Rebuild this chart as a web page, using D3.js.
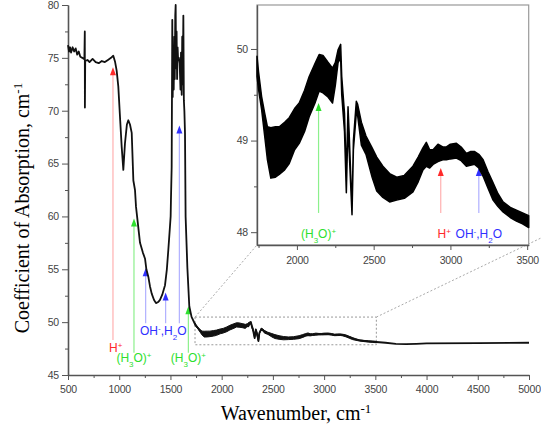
<!DOCTYPE html>
<meta charset="utf-8">
<script src="https://d3js.org/d3.v7.min.js"></script>
<style>
  body { margin: 0; background: #fff; }
  .tick text { font-family: "Liberation Sans", Arial, sans-serif; font-size: 10.5px; fill: #444; letter-spacing: -0.2px; }
  .tick line, .domain { stroke: #555; }
</style>
<div id="chart"></div>
<script>

// ---- data ----
// whole spectrum (wavenumber, absorption); middle part is the centre of the noisy band
var specWn  = [500,510,520,530,545,560,575,590,605,620,640,655,660,664,665,668,690,710,740,770,800,830,860,890,920,942,960,975,991,1010,1024,1040,1056,1075,1089,1105,1122,1138,1154,1164,1180,1203,1230,1252,1265,1284,1300,1317,1340,1359,1380,1398,1420,1447,1465,1479,1495,1502,1505,1512,1518,1522,1527,1532,1538,1542,1547,1551,1555,1560,1565,1570,1575,1582,1590,1598,1603,1610,1615,1620,1626,1631,1636,1642,1648,1665,1684,1706,1740,1780,1820,1900,2000,2080,2160,2225,2260,2285,2300,2322,2333,2344,2359,2368,2387,2430,2520,2600,2690,2780,2845,2890,2930,3040,3100,3160,3215,3280,3345,3430,3510,3600,3700,3800,3900,4000,4500,5000];
var specAbs = [76.2,75.6,76.0,75.5,76.0,75.6,75.9,75.3,75.6,75.1,75.0,74.9,75.0,77.5,70.3,74.7,74.8,74.6,74.9,74.6,74.5,74.7,74.6,74.8,75.0,75.2,74.6,73.8,72.3,69.0,66.6,64.4,66.9,68.7,69.1,68.7,67.9,63.4,62.5,60.9,59.5,57.5,56.6,56.0,55.0,54.3,53.4,52.7,52.1,51.8,51.9,52.1,52.6,53.5,55.0,56.8,59.0,60.0,61.6,64.7,78.6,71.3,76,72,77,73,79,80,74,77.5,73,76,74.8,75,74.5,72,75.5,71.5,77,72.5,79,71,70,67.9,60,55.2,51.5,50.5,49.8,49.3,48.9,48.9,49.2,49.5,49.7,49.65,49.6,50.0,49.5,48.5,49.3,49.0,48.2,48.95,49.35,49.0,48.62,48.48,48.48,48.6,48.85,48.82,48.86,48.89,48.79,48.81,48.7,48.45,48.28,48.18,48.12,48.05,47.95,47.92,47.95,48.0,48.02,48.05];

// inset detail: upper and lower edge of the noisy band
var bandWn = [1740,1750,1770,1790,1808,1830,1860,1885,1920,1950,1985,2015,2050,2080,2120,2145,2170,2200,2232,2250,2268,2285,2292,2310,2322,2333,2340,2359,2368,2387,2395,2420,2450,2490,2520,2560,2604,2650,2700,2756,2790,2821,2843,2865,2887,2919,2950,2974,3000,3039,3070,3104,3130,3158,3185,3213,3245,3278,3310,3343,3390,3430,3470,3510];
var bandHi = [49.92,49.75,49.48,49.30,49.15,49.14,49.15,49.15,49.20,49.25,49.35,49.41,49.55,49.70,49.85,49.94,49.93,49.86,49.79,49.85,49.99,50.05,49.70,49.30,48.60,49.37,49.10,48.25,49.00,49.43,49.40,49.20,49.05,48.92,48.82,48.72,48.64,48.60,48.62,48.72,48.82,48.92,48.98,48.90,48.90,48.96,48.93,48.93,48.96,48.97,48.93,48.86,48.88,48.88,48.85,48.79,48.66,48.54,48.42,48.33,48.27,48.24,48.21,48.18];
var bandLo = [49.70,49.56,49.34,49.05,48.79,48.59,48.60,48.63,48.68,48.75,48.90,48.97,49.10,49.26,49.42,49.54,49.52,49.48,49.41,49.60,49.85,49.90,49.50,49.10,48.43,49.20,48.90,48.19,48.90,49.30,49.28,48.95,48.85,48.60,48.45,48.38,48.33,48.35,48.37,48.44,48.55,48.68,48.72,48.70,48.74,48.77,48.79,48.79,48.80,48.81,48.78,48.72,48.73,48.74,48.70,48.61,48.48,48.35,48.28,48.22,48.16,48.12,48.09,48.05];

// assignment arrows: position, tip value, foot value, colour kind
var mainArrowWn   = [939, 1144, 1258, 1453, 1587, 1675];
var mainArrowTip  = [74.1, 59.8, 55.1, 52.8, 68.6, 51.5];
var mainArrowBase = [48.3, 47.1, 49.9, 49.9, 49.9, 47.1];
var mainArrowKind = ["H", "H3O", "OH", "OH", "OH", "H3O"];
var insetArrowWn   = [2141, 2937, 3185];
var insetArrowTip  = [49.41, 48.70, 48.70];
var insetArrowBase = [48.21, 48.21, 48.21];
var insetArrowKind = ["H3O", "H", "OH"];

// labels (wavenumber, value, kind)
var mainLabelWn  = [965, 1144, 1675, 1430];
var mainLabelAbs = [47.6, 46.6, 46.6, 49.2];
var mainLabelKind = ["H", "H3O", "H3O", "OH"];
var insetLabelWn  = [2141, 2960, 3185];
var insetLabelAbs = [47.98, 47.98, 47.98];
var insetLabelKind = ["H3O", "H", "OH"];

var mainXTicks = [500,1000,1500,2000,2500,3000,3500,4000,4500,5000];
var mainYTicks = [45,50,55,60,65,70,75,80];
var insetXTicks = [2000,2500,3000,3500];
var insetYTicks = [48,49,50];

// ---- colours / label text ----
var head = {H: "#ff2a2a", H3O: "#2ee02e", OH: "#3030ff"};
var shaft = {H: "#ffb0b0", H3O: "#8cf08c", OH: "#b0b0ff"};
var labelParts = {
  H:   [["H", 0], ["+", 1]],
  H3O: [["(H", 0], ["3", -1], ["O)", 0], ["+", 1]],
  OH:  [["OH", 0], ["-", 1], [",H", 0], ["2", -1], ["O", 0]]
};

var W = 541, H = 429;
var svg = d3.select("#chart").append("svg")
    .attr("width", W).attr("height", H);

var fmt = d3.format("d");

// ---- main plot ----
var x = d3.scaleLinear().domain([500, 5000]).range([68, 529]);
var y = d3.scaleLinear().domain([45, 80]).range([375, 5]);

function minorAxis(axisFn, scale, vals, size) {
  return axisFn(scale).tickValues(vals).tickSize(size).tickFormat("").tickSizeOuter(0);
}

svg.append("g")
    .attr("transform", "translate(0,375)")
    .call(minorAxis(d3.axisBottom, x, d3.range(750, 5000, 500), 3));
svg.append("g")
    .attr("transform", "translate(0,375)")
    .call(d3.axisBottom(x).tickValues(mainXTicks).tickFormat(fmt).tickSize(5).tickPadding(6).tickSizeOuter(0))
    .select(".domain").attr("stroke-width", 1.6);
svg.append("g")
    .attr("transform", "translate(68,0)")
    .call(minorAxis(d3.axisLeft, y, d3.range(47.5, 80, 5), 3));
svg.append("g")
    .attr("transform", "translate(68,0)")
    .call(d3.axisLeft(y).tickValues(mainYTicks).tickFormat(fmt).tickSize(6).tickPadding(3).tickSizeOuter(0))
    .select(".domain").attr("stroke-width", 1.6);

// axis titles
svg.append("text")
    .attr("x", 296).attr("y", 420)
    .attr("text-anchor", "middle")
    .style("font-family", "'Liberation Serif', 'Times New Roman', serif")
    .style("font-size", "20px")
    .text("Wavenumber, cm")
  .append("tspan").attr("baseline-shift", "super").style("font-size", "13px").text("-1");

svg.append("text")
    .attr("transform", "translate(29,208) rotate(-90)")
    .attr("text-anchor", "middle")
    .style("font-family", "'Liberation Serif', 'Times New Roman', serif")
    .style("font-size", "20px")
    .text("Coefficient of Absorption, cm")
  .append("tspan").attr("baseline-shift", "super").style("font-size", "13px").text("-1");

// zoom box and connectors
var ix0 = 1740, ix1 = 3510, iy0 = 47.86, iy1 = 50.48;
svg.append("rect")
    .attr("x", x(ix0)).attr("y", y(iy1))
    .attr("width", x(ix1) - x(ix0)).attr("height", y(iy0) - y(iy1))
    .attr("fill", "none").attr("stroke", "#999").attr("stroke-dasharray", "2,2");
svg.append("line")
    .attr("x1", x(ix0)).attr("y1", y(iy1)).attr("x2", 257).attr("y2", 245)
    .attr("stroke", "#aaa").attr("stroke-dasharray", "2,2");
svg.append("line")
    .attr("x1", x(ix1)).attr("y1", y(iy1)).attr("x2", 541).attr("y2", 238)
    .attr("stroke", "#aaa").attr("stroke-dasharray", "2,2");

function drawArrows(g, xs, ys, wn, tip, base, kind) {
  wn.forEach(function(d, i) {
    var px = xs(d), pt = ys(tip[i]), pb = ys(base[i]);
    g.append("line")
        .attr("x1", px).attr("x2", px).attr("y1", pt + 4).attr("y2", pb)
        .attr("stroke", shaft[kind[i]]).attr("stroke-width", 1.2);
    g.append("path")
        .attr("d", "M" + px + "," + pt + "L" + (px - 3) + "," + (pt + 8) + "L" + (px + 3) + "," + (pt + 8) + "Z")
        .attr("fill", head[kind[i]]);
  });
}

function drawLabels(g, xs, ys, wn, val, kind) {
  wn.forEach(function(d, i) {
    var t = g.append("text")
        .attr("x", xs(d)).attr("y", ys(val[i]))
        .attr("dy", "0.35em")
        .attr("text-anchor", "middle")
        .attr("fill", head[kind[i]])
        .style("font-family", "'Liberation Sans', Arial, sans-serif")
        .style("font-size", "12px");
    labelParts[kind[i]].forEach(function(p) {
      var s = t.append("tspan").text(p[0]);
      if (p[1] == 1) s.attr("baseline-shift", "super").style("font-size", "8px");
      if (p[1] == -1) s.attr("baseline-shift", "sub").style("font-size", "8px");
    });
  });
}

drawArrows(svg, x, y, mainArrowWn, mainArrowTip, mainArrowBase, mainArrowKind);
drawLabels(svg, x, y, mainLabelWn, mainLabelAbs, mainLabelKind);

var mainLine = d3.line()
    .x(function(d, i) { return x(specWn[i]); })
    .y(function(d) { return y(d); });
svg.append("path")
    .datum(specAbs)
    .attr("d", mainLine)
    .attr("fill", "none").attr("stroke", "#111").attr("stroke-width", 1.8)
    .attr("stroke-linejoin", "round");

var mainBand = d3.area()
    .x(function(d, i) { return x(bandWn[i]); })
    .y0(function(d, i) { return y(bandLo[i]); })
    .y1(function(d, i) { return y(bandHi[i]); });
svg.append("path")
    .datum(bandHi)
    .attr("d", mainBand)
    .attr("fill", "#111").attr("stroke", "#111").attr("stroke-width", 1);

// ---- inset ----
var xi = d3.scaleLinear().domain([ix0, ix1]).range([257, 528.7]);
var yi = d3.scaleLinear().domain([iy0, iy1]).range([245, 5]);
var inset = svg.append("g");

inset.append("rect")
    .attr("x", 257).attr("y", 5).attr("width", 528.7 - 257).attr("height", 240)
    .attr("fill", "#fff").attr("stroke", "#999").attr("stroke-width", 1.2);

inset.append("g")
    .attr("transform", "translate(0,245)")
    .call(minorAxis(d3.axisBottom, xi, [1750, 2250, 2750, 3250], 3));
inset.append("g")
    .attr("transform", "translate(0,245)")
    .call(d3.axisBottom(xi).tickValues(insetXTicks).tickFormat(fmt).tickSize(5).tickPadding(7).tickSizeOuter(0))
    .select(".domain").attr("stroke-width", 1.4);
inset.append("g")
    .attr("transform", "translate(257,0)")
    .call(minorAxis(d3.axisLeft, yi, [48.5, 49.5], 3));
inset.append("g")
    .attr("transform", "translate(257,0)")
    .call(d3.axisLeft(yi).tickValues(insetYTicks).tickFormat(fmt).tickSize(6).tickPadding(3).tickSizeOuter(0))
    .select(".domain").attr("stroke-width", 1.4);

drawArrows(inset, xi, yi, insetArrowWn, insetArrowTip, insetArrowBase, insetArrowKind);
drawLabels(inset, xi, yi, insetLabelWn, insetLabelAbs, insetLabelKind);

var insetBand = d3.area()
    .x(function(d, i) { return xi(bandWn[i]); })
    .y0(function(d, i) { return yi(bandLo[i]); })
    .y1(function(d, i) { return yi(bandHi[i]); });
inset.append("path")
    .datum(bandHi)
    .attr("d", insetBand)
    .attr("fill", "#000").attr("stroke", "#000").attr("stroke-width", 1.5)
    .attr("stroke-linejoin", "round");

</script>
